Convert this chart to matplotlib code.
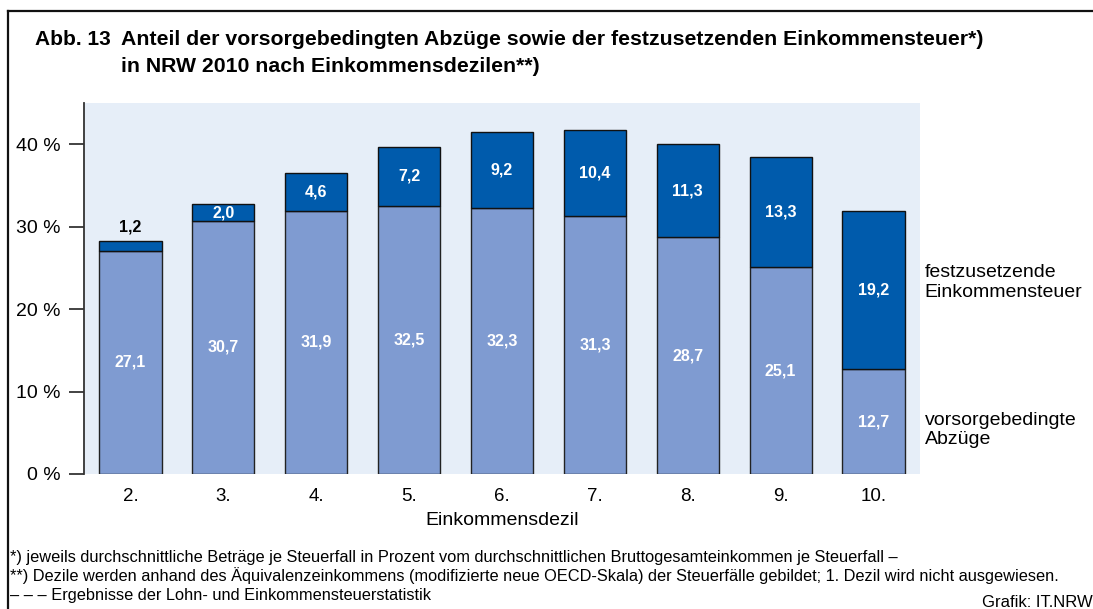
import matplotlib
matplotlib.use("Agg")
import matplotlib.pyplot as plt
from matplotlib.lines import Line2D

plt.rcParams['font.family'] = ['Liberation Sans', 'DejaVu Sans']

dezile = ['2.', '3.', '4.', '5.', '6.', '7.', '8.', '9.', '10.']
vorsorge = [27.1, 30.7, 31.9, 32.5, 32.3, 31.3, 28.7, 25.1, 12.7]
steuer = [1.2, 2.0, 4.6, 7.2, 9.2, 10.4, 11.3, 13.3, 19.2]
yticks = [0, 10, 20, 30, 40]

c_low = '#7f9bd1'
c_high = '#005bac'
c_bg = '#e6eef8'

fig = plt.figure(figsize=(10.93, 6.09), dpi=100)
ax = fig.add_axes([0.0769, 0.2217, 0.7648, 0.6092])
ax.set_facecolor(c_bg)

x = range(len(dezile))
ax.bar(x, vorsorge, width=0.67, color=c_low, edgecolor='#222222', linewidth=1.0, zorder=2)
ax.bar(x, steuer, width=0.67, bottom=vorsorge, color=c_high, edgecolor='#111111',
       linewidth=1.0, zorder=2)

def fmt(v):
    return f"{v:.1f}".replace('.', ',')

for i in x:
    ax.text(i, vorsorge[i] / 2, fmt(vorsorge[i]), ha='center', va='center',
            color='white', fontsize=11.5, fontweight='bold')
    if steuer[i] < 2:
        # too small to fit inside the bar
        ax.text(i, vorsorge[i] + steuer[i] + 1.7, fmt(steuer[i]),
                ha='center', va='center', color='black', fontsize=11.5, fontweight='bold')
    else:
        ax.text(i, vorsorge[i] + steuer[i] / 2, fmt(steuer[i]),
                ha='center', va='center', color='white', fontsize=11.5, fontweight='bold')

ax.set_xlim(-0.5, 8.5)
ax.set_ylim(0, 45)
ax.set_yticks(yticks)
ax.set_yticklabels([f"{v} %" for v in yticks], fontsize=14)
ax.set_xticks(list(x))
ax.set_xticklabels(dezile, fontsize=13.5)
ax.tick_params(axis='y', length=11, width=1.2, color='#222222', pad=6)
ax.tick_params(axis='x', length=0, pad=10)
for s in ['top', 'right', 'bottom']:
    ax.spines[s].set_visible(False)
ax.spines['left'].set_color('#333333')
ax.spines['left'].set_linewidth(1.3)
fig.text(0.459, 0.146, 'Einkommensdezil', fontsize=14, ha='center', va='center')

# legend text on the right
fig.text(0.846, 0.536, 'festzusetzende\nEinkommensteuer', fontsize=14, va='center',
         linespacing=1.2)
fig.text(0.846, 0.294, 'vorsorgebedingte\nAbzüge', fontsize=14, va='center',
         linespacing=1.2)

fig.text(0.032, 0.926, 'Abb. 13', fontsize=15, fontweight='bold', va='baseline')
fig.text(0.111, 0.926, 'Anteil der vorsorgebedingten Abzüge sowie der festzusetzenden Einkommensteuer*)',
         fontsize=15.3, fontweight='bold', va='baseline')
fig.text(0.111, 0.882, 'in NRW 2010 nach Einkommensdezilen**)', fontsize=15.3,
         fontweight='bold', va='baseline')

foot = ['*) jeweils durchschnittliche Beträge je Steuerfall in Prozent vom durchschnittlichen '
        'Bruttogesamteinkommen je Steuerfall –',
        '**) Dezile werden anhand des Äquivalenzeinkommens (modifizierte neue OECD-Skala) der '
        'Steuerfälle gebildet; 1. Dezil wird nicht ausgewiesen.',
        '– – – Ergebnisse der Lohn- und Einkommensteuerstatistik']
for k, line in enumerate(foot):
    fig.text(0.009, 0.0772 - k * 0.0312, line, fontsize=11.8, va='baseline')
fig.text(1.0, 0.004, 'Grafik: IT.NRW', fontsize=12, va='baseline', ha='right')

# frame lines at top and left
fig.add_artist(Line2D([0.007, 1.0], [0.982, 0.982], color='#111111', linewidth=1.6))
fig.add_artist(Line2D([0.007, 0.007], [0.0, 0.982], color='#111111', linewidth=1.6))

fig.savefig('out.png', dpi=100)
